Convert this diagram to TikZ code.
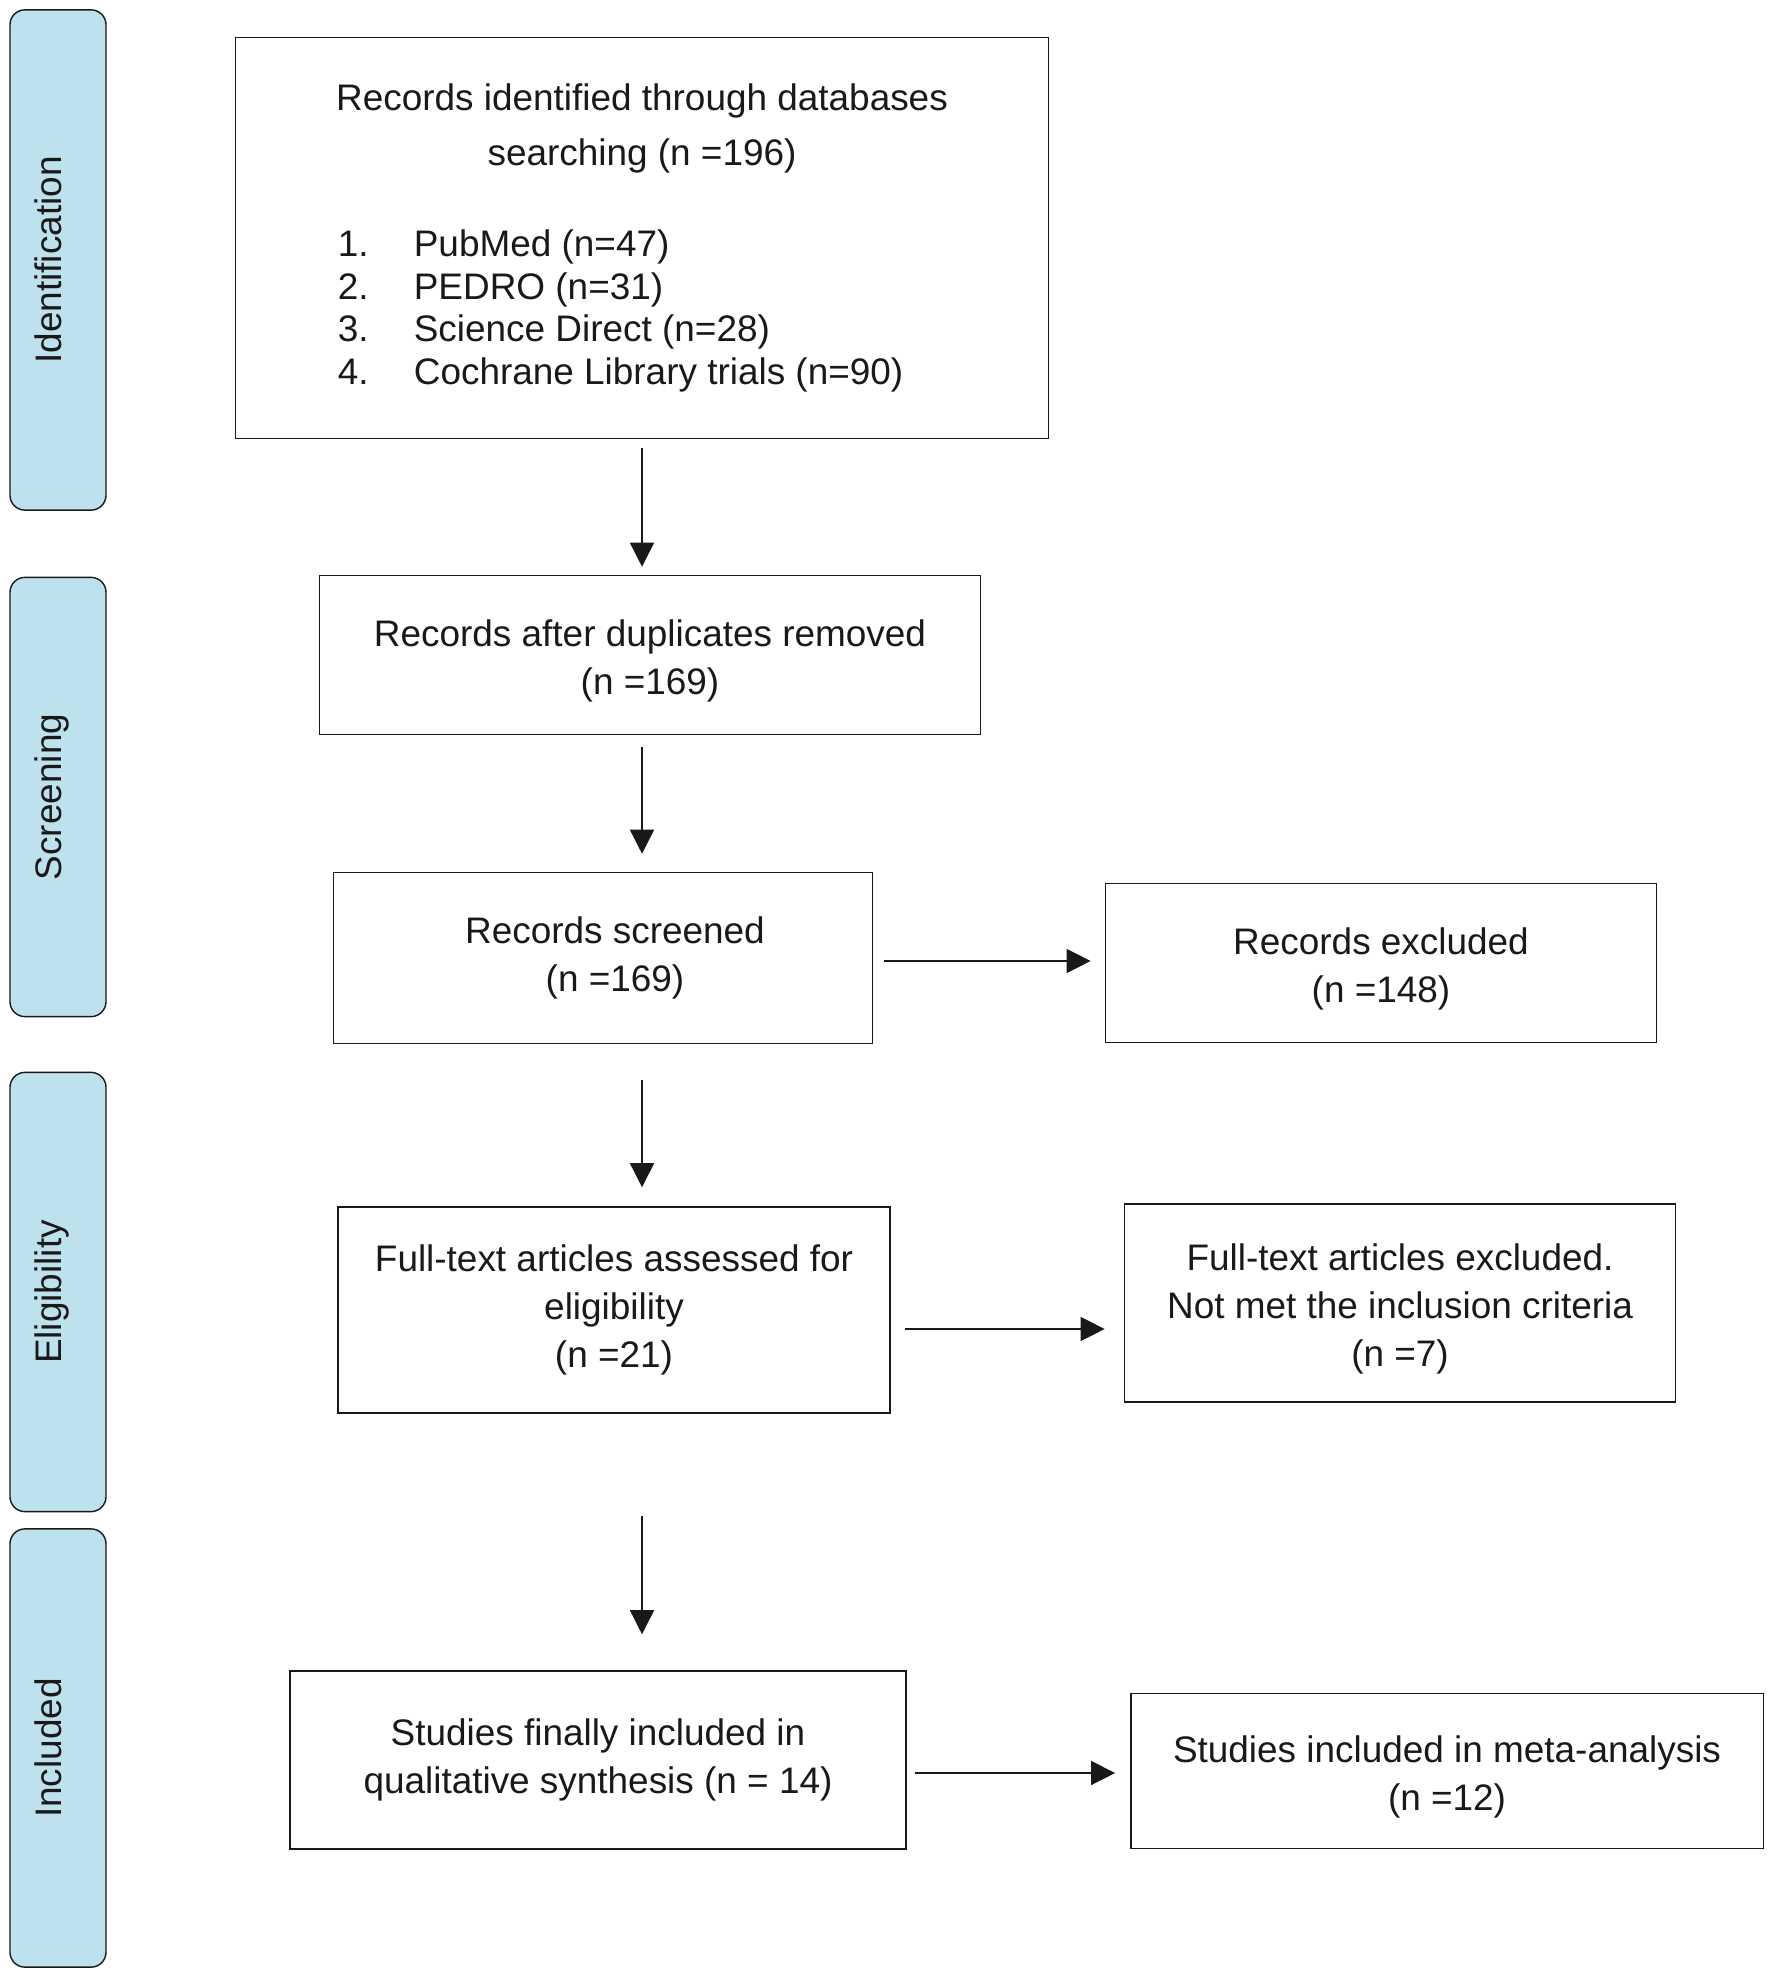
\documentclass[tikz,border=0pt]{standalone}
\usepackage{fontspec}
\setmainfont{Liberation Sans}
\usetikzlibrary{positioning,arrows.meta,calc}
\definecolor{sidefill}{RGB}{190,225,238}
\definecolor{ink}{RGB}{25,25,25}
\newcommand{\lowstrut}{\rule{0pt}{11pt}}
\tikzset{
x=0.01cm, y=-0.01cm,
line width=1.1pt,
box/.style={draw=ink, rectangle, align=center, inner sep=0pt, text=ink,
  font=\fontsize{10.5}{13.7}\selectfont},
phase/.style={draw=ink, fill=sidefill, rounded corners=0.15cm, rotate=90,
  minimum height=0.96cm, inner sep=0pt, text=ink, text height=7.6pt, text depth=5.8pt,
  font=\fontsize{10.5}{13.7}\selectfont},
arr/.style={-{Triangle[length=0.24cm,width=0.24cm]}, draw=ink},
}

\begin{document}
\begin{tikzpicture}
    \useasboundingbox (0,0) rectangle (1772,1977);

    \node[phase,minimum width=5.00cm] (s1) at (58,260) {Identification};
    \node[phase,minimum width=4.39cm] (s2) at (58,797) {Screening};
    \node[phase,minimum width=4.39cm] (s3) at (58,1292) {Eligibility};
    \node[phase,minimum width=4.38cm] (s4) at (58,1748) {Included};

    \node[box,minimum width=8.13cm,minimum height=4.01cm] (idn) at (642,238) {%
      \begin{minipage}{6.4cm}
      \centering\fontsize{10.5}{15.6}\selectfont
      Records identified through databases\\searching (n =196)\par
      \vspace{13.8pt}
      \raggedright\fontsize{10.5}{12.1}\selectfont
      \hspace*{0.16cm}\makebox[0.76cm][l]{1.}PubMed (n=47)\\
      \hspace*{0.16cm}\makebox[0.76cm][l]{2.}PEDRO (n=31)\\
      \hspace*{0.16cm}\makebox[0.76cm][l]{3.}Science Direct (n=28)\\
      \hspace*{0.16cm}\makebox[0.76cm][l]{4.}Cochrane Library trials (n=90)\par
      \end{minipage}};
    \node[box,minimum width=6.61cm,minimum height=1.59cm] (dup) at (650,655) {\lowstrut Records after duplicates removed\\(n =169)};
    \node[box,minimum width=5.39cm,minimum height=1.71cm] (scr) at (603,958) {\hspace*{0.24cm}Records screened\\\hspace*{0.24cm}(n =169)};
    \node[box,minimum width=5.51cm,minimum height=1.59cm] (exc) at (1381,963) {\lowstrut Records excluded\\(n =148)};
    \node[box,minimum width=5.52cm,minimum height=2.06cm] (elig) at (614,1310) {Full-text articles assessed for\\eligibility\\(n =21)};
    \node[box,minimum width=5.51cm,minimum height=1.98cm] (fexc) at (1400,1303) {\lowstrut Full-text articles excluded.\\Not met the inclusion criteria\\(n =7)};
    \node[box,minimum width=6.16cm,minimum height=1.78cm] (qual) at (598,1760) {Studies finally included in\\qualitative synthesis (n = 14)};
    \node[box,minimum width=6.32cm,minimum height=1.55cm] (meta) at (1447,1771) {\lowstrut Studies included in meta-analysis\\(n =12)};

    \draw[arr,shorten <=0.09cm,shorten >=0.08cm] (idn.south) -- (idn.south |- dup.north);
    \draw[arr,shorten <=0.12cm,shorten >=0.18cm] (idn.south |- dup.south) -- (idn.south |- scr.north);
    \draw[arr,shorten <=0.36cm,shorten >=0.19cm] (idn.south |- scr.south) -- (idn.south |- elig.north);
    \draw[arr,shorten <=1.02cm,shorten >=0.36cm] (idn.south |- elig.south) -- (idn.south |- qual.north);
    \draw[arr,shorten <=0.11cm,shorten >=0.14cm] ($(scr.east)+(0,3)$) -- ($(scr.east -| exc.west)+(0,3)$);
    \draw[arr,shorten <=0.14cm,shorten >=0.19cm] ($(elig.east)+(0,19)$) -- ($(elig.east -| fexc.west)+(0,19)$);
    \draw[arr,shorten <=0.08cm,shorten >=0.15cm] ($(qual.east)+(0,13)$) -- ($(qual.east -| meta.west)+(0,13)$);

\end{tikzpicture}
\end{document}
